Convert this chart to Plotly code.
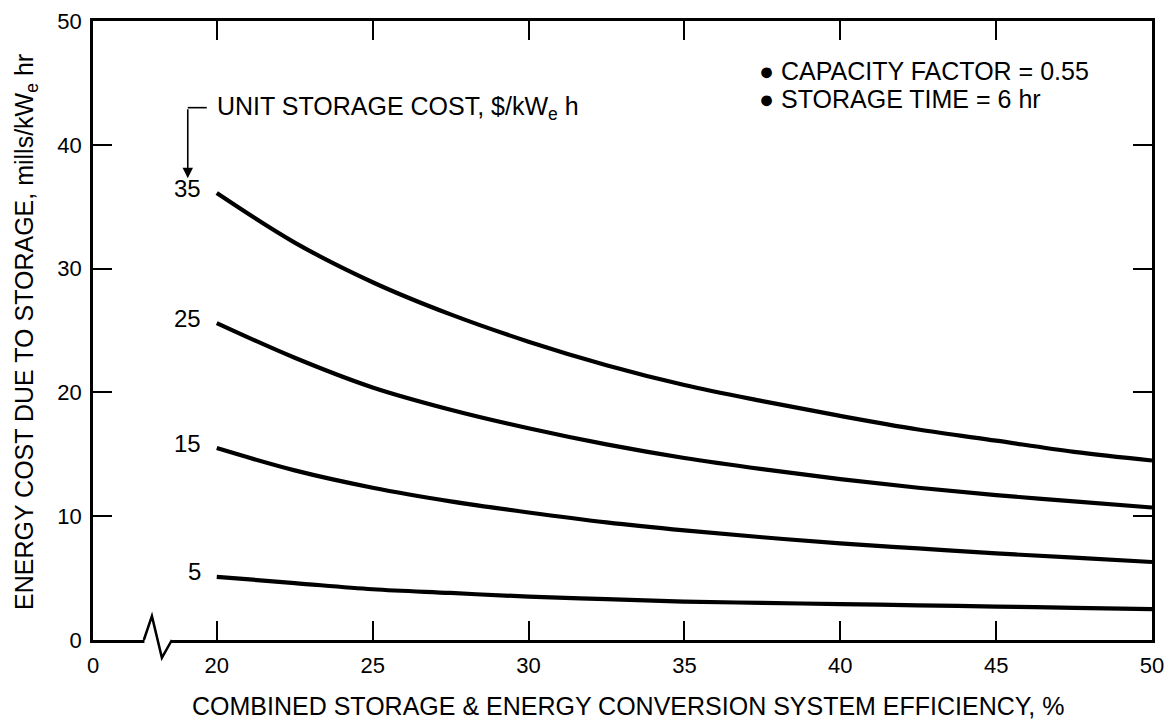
import plotly.graph_objects as go

# ---- data ----
efficiency = [20, 22.5, 25, 27.5, 30, 32.5, 35, 37.5, 40, 42.5, 45, 47.5, 50]
cost_35 = [36.1, 32.1, 28.9, 26.3, 24.1, 22.2, 20.6, 19.3, 18.1, 17.0, 16.1, 15.2, 14.5]
cost_25 = [25.6, 22.8, 20.4, 18.6, 17.1, 15.8, 14.7, 13.8, 13.0, 12.3, 11.7, 11.2, 10.7]
cost_15 = [15.5, 13.7, 12.3, 11.2, 10.3, 9.5, 8.85, 8.3, 7.8, 7.4, 7.0, 6.65, 6.3]
cost_5 = [5.1, 4.6, 4.1, 3.8, 3.5, 3.3, 3.1, 3.0, 2.9, 2.8, 2.7, 2.6, 2.5]
unit_costs = ["35", "25", "15", "5"]
series = [cost_35, cost_25, cost_15, cost_5]

x_tick_vals = [20, 25, 30, 35, 40, 45, 50]
y_tick_vals = [0, 10, 20, 30, 40, 50]

# broken axis: the "0" label sits at this display position
X_ZERO_POS = 16.03
X_RANGE = [X_ZERO_POS, 50]
Y_RANGE = [0, 50]

FONT = "Liberation Sans"
FS = 25
TICK_FS = 22
INK = "black"

# plot area in reference pixels (used for paper-coordinate placement)
PL, PR, PT, PB = 93, 1152, 21, 640
PW, PH = PR - PL, PB - PT


def paper_x(pix):
    return (pix - PL) / PW


def paper_y(pix):
    return (PB - pix) / PH


fig = go.Figure()
for vals in series:
    fig.add_trace(go.Scatter(x=efficiency, y=vals, mode="lines",
                             line=dict(color=INK, width=4.2, shape="spline"),
                             showlegend=False, hoverinfo="skip"))

# curve labels
for lab, vals in zip(unit_costs, series):
    fig.add_annotation(x=efficiency[0] - 0.45, y=vals[0] + 0.4, text=lab, showarrow=False,
                       xanchor="right", yanchor="middle",
                       font=dict(family=FONT, size=FS - 1, color=INK))

# "UNIT STORAGE COST" bracket + arrow
fig.add_annotation(x=19.07, y=37.3, ax=19.07, ay=43.0, axref="x", ayref="y",
                   text="", showarrow=True, arrowhead=2, arrowsize=1.3,
                   arrowwidth=1.6, arrowcolor=INK, standoff=0)
fig.add_shape(type="line", x0=19.07, y0=43.0, x1=19.68, y1=43.0,
              xref="x", yref="y", line=dict(color=INK, width=1.6))
fig.add_annotation(x=19.95, y=43.0, text="UNIT STORAGE COST, $/kW<sub>e</sub> h",
                   showarrow=False, xanchor="left", yanchor="middle",
                   font=dict(family=FONT, size=FS, color=INK))

# notes
fig.add_annotation(xref="paper", yref="paper", x=paper_x(757), y=paper_y(71),
                   text="● CAPACITY FACTOR = 0.55", showarrow=False,
                   xanchor="left", yanchor="middle", font=dict(family=FONT, size=FS, color=INK))
fig.add_annotation(xref="paper", yref="paper", x=paper_x(757), y=paper_y(99),
                   text="● STORAGE TIME = 6 hr", showarrow=False,
                   xanchor="left", yanchor="middle", font=dict(family=FONT, size=FS, color=INK))


# axis break (zig-zag) on the x axis, in paper coordinates
def px(x):
    return (x - X_RANGE[0]) / (X_RANGE[1] - X_RANGE[0])


def py(y):
    return (y - Y_RANGE[0]) / (Y_RANGE[1] - Y_RANGE[0])


break_x = [17.66, 17.92, 18.24, 18.56]
break_y = [0, 1.93, -1.44, 0]
fig.add_shape(type="rect", xref="paper", yref="paper",
              x0=px(17.68), x1=px(18.54), y0=py(-0.35), y1=py(0.35),
              fillcolor="white", line=dict(width=0), layer="above")
path = "M " + " L ".join(f"{px(a)},{py(b)}" for a, b in zip(break_x, break_y))
fig.add_shape(type="path", xref="paper", yref="paper", path=path,
              line=dict(color=INK, width=2.5), layer="above")

# axis titles as annotations
fig.add_annotation(xref="paper", yref="paper", x=paper_x(26), y=paper_y(332),
                   text="ENERGY COST DUE TO STORAGE, mills/kW<sub>e</sub> hr",
                   textangle=-90, showarrow=False, xanchor="center", yanchor="middle",
                   font=dict(family=FONT, size=FS, color=INK))
fig.add_annotation(xref="paper", yref="paper", x=paper_x(628), y=paper_y(706),
                   text="COMBINED STORAGE &amp; ENERGY CONVERSION SYSTEM EFFICIENCY, %",
                   showarrow=False, xanchor="center", yanchor="middle",
                   font=dict(family=FONT, size=FS, color=INK))

fig.update_layout(
    width=1175, height=722,
    margin=dict(l=85, r=31, t=13, b=90),
    paper_bgcolor="white", plot_bgcolor="white",
    font=dict(family=FONT, size=TICK_FS, color=INK),
    xaxis=dict(range=X_RANGE, tickmode="array",
               tickvals=[X_ZERO_POS] + x_tick_vals,
               ticktext=["0"] + [str(v) for v in x_tick_vals],
               ticks="inside", ticklen=19, tickwidth=1.5, tickcolor=INK,
               showline=True, linewidth=2.6, linecolor=INK, mirror="ticks",
               showgrid=False, zeroline=False, ticklabelstandoff=4,
               automargin=False, ticklabeloverflow="allow"),
    yaxis=dict(range=Y_RANGE, tickmode="array", tickvals=y_tick_vals,
               ticktext=[str(v) for v in y_tick_vals],
               ticks="inside", ticklen=19, tickwidth=1.5, tickcolor=INK,
               showline=True, linewidth=2.6, linecolor=INK, mirror="ticks",
               showgrid=False, zeroline=False, ticklabelstandoff=4,
               automargin=False, ticklabeloverflow="allow"),
)

fig.write_html("out.html")
